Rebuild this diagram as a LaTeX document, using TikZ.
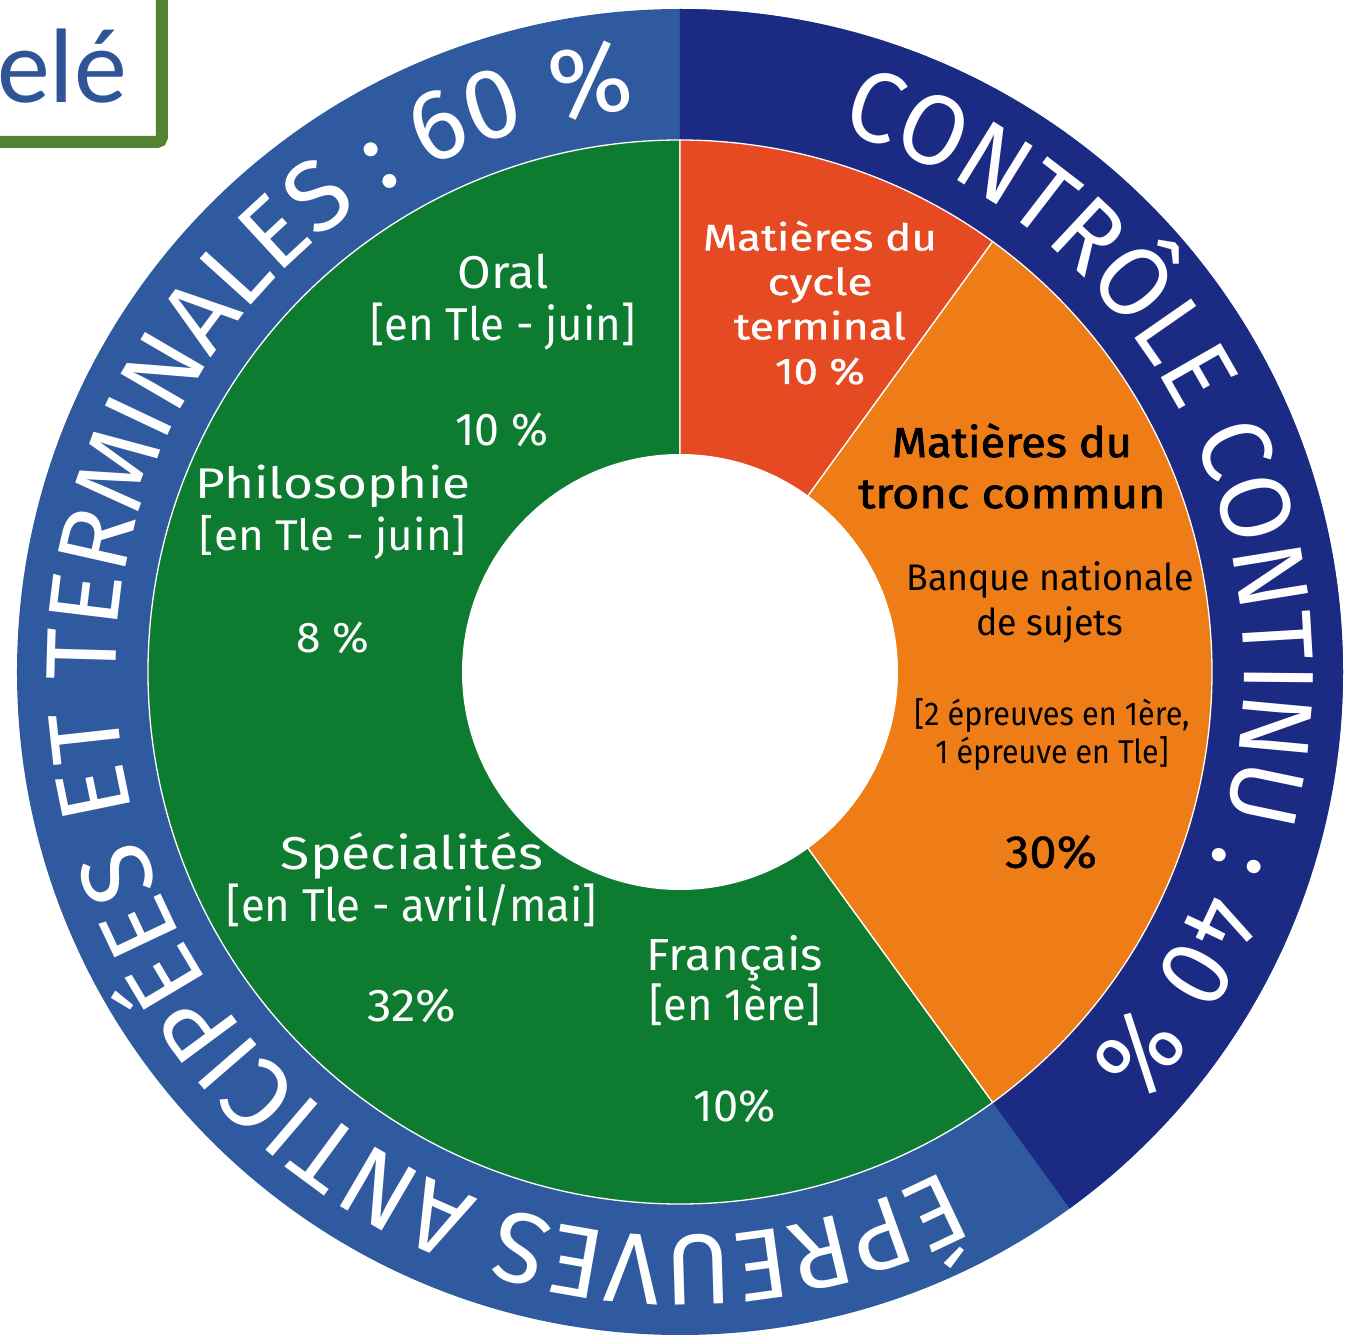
\documentclass[tikz,border=0pt]{standalone}
\usepackage{fontspec}
\usepackage{graphicx}
\setmainfont{Fira Sans}
\newfontfamily\ringfont{Fira Sans}
\newfontfamily\ringfontc{Fira Sans}[FakeStretch=0.955]
\newfontfamily\medfont{Fira Sans}[FakeBold=0.8]
\newfontfamily\semifont{Fira Sans}[FakeBold=1.8]
\newfontfamily\calfont{Carlito}
\usetikzlibrary{decorations.text}
\definecolor{ringlight}{HTML}{2F5AA0}
\definecolor{ringdark}{HTML}{1B2A82}
\definecolor{piegreen}{HTML}{0E7C30}
\definecolor{piered}{HTML}{E64A22}
\definecolor{pieorange}{HTML}{EE7D17}
\definecolor{boxgreen}{HTML}{548235}
\definecolor{boxblue}{HTML}{2F5597}
\newcommand\fw[2]{\resizebox{#1pt}{\height}{#2}}
\begin{document}
\begin{tikzpicture}[x=1pt,y=1pt,
  sector/.style={draw=white, line width=1.3pt},
  lbl/.style={align=center, inner sep=0pt},
  wlbl/.style={lbl, text=white},
  klbl/.style={lbl, text=black},
  ringtext/.style={decorate, decoration={text along path, text align=center, text color=white, text={#1}}}
]
\useasboundingbox (-680,-662) rectangle (680,672);
\clip (-680,-662) rectangle (680,672);

% outer ring
\fill[ringlight] (0,0) circle[radius=663pt];
\fill[ringdark] (0,0) -- (90:663pt) arc[start angle=90, end angle=-54, radius=663pt] -- cycle;

% pie
\path[sector, fill=piegreen] (0,0) -- (90:532pt) arc[start angle=90, end angle=306, radius=532pt] -- cycle;
\path[sector, fill=piered] (0,0) -- (90:532pt) arc[start angle=90, end angle=54, radius=532pt] -- cycle;
\path[sector, fill=pieorange] (0,0) -- (54:532pt) arc[start angle=54, end angle=-54, radius=532pt] -- cycle;
\fill[white] (0,0) circle[radius=218pt];

% ring texts (centred on their arcs)
\path[ringtext={|\ringfont\fontsize{100}{100}\selectfont|ÉPREUVES ANTICIPÉES ET TERMINALES : 60 {\%}}]
  (-43.75:564pt) arc[start angle=-43.75, end angle=-283.75, radius=564pt];
\path[ringtext={|\ringfontc\fontsize{100}{100}\selectfont|CONTRÔLE CONTINU : 40 {\%}}]
  (110:564pt) arc[start angle=110, end angle=-80, radius=564pt];

% red sector
\node[wlbl, font=\medfont\fontsize{37}{44.5}\selectfont] (cycle) at (140,369)
  {\fw{234}{Matières du}\\ \fw{105}{cycle}\\ \fw{172}{terminal}\\ \fw{90}{10 \%}};

% orange sector
\node[klbl, font=\semifont\fontsize{42}{51}\selectfont] (tronc) at (332,206)
  {\fw{240}{Matières du}\\ \fw{307}{tronc commun}};
\node[klbl, font=\fontsize{37}{45}\selectfont] (banque) at (370,70)
  {\fw{287}{Banque nationale}\\ \fw{147}{de sujets}};
\node[klbl, font=\fontsize{33}{38}\selectfont] (epr) at (372,-63)
  {\fw{275}{[2 épreuves en 1ère,}\\ \fw{233}{1 épreuve en Tle]}};
\node[klbl, font=\medfont\fontsize{46}{46}\selectfont] (trente) at (371,-180)
  {\fw{92}{30\%}};

% green sector
\node[wlbl, font=\fontsize{46}{52}\selectfont] (oral) at (-177,370)
  {\fw{91}{Oral}\\ \fw{265}{[en Tle - juin]}};
\node[wlbl, font=\fontsize{46}{52}\selectfont] (oralp) at (-178,242)
  {\fw{93}{10 \%}};
\node[wlbl, font=\fontsize{43}{52}\selectfont] (philo) at (-347,160)
  {\fw{275}{Philosophie}\\ \fw{266}{[en Tle - juin]}};
\node[wlbl, font=\fontsize{43}{52}\selectfont] (philop) at (-347,34)
  {\fw{73}{8 \%}};
\node[wlbl, font=\fontsize{46}{52}\selectfont] (spe) at (-268,-208)
  {\fw{262}{Spécialités}\\ \fw{370}{[en Tle - avril/mai]}};
\node[wlbl, font=\fontsize{46}{52}\selectfont] (spep) at (-268,-334)
  {\fw{89}{32\%}};
\node[wlbl, font=\fontsize{45}{50}\selectfont] (fr) at (55,-309)
  {\fw{176}{Français}\\ \fw{170}{[en 1ère]}};
\node[wlbl, font=\fontsize{45}{50}\selectfont] (frp) at (55,-434)
  {\fw{82}{10\%}};

% partial title box
\draw[boxgreen, line width=12pt, rounded corners=5pt, fill=white] (-720,720) rectangle (-518,530);
\node[anchor=base west, inner sep=0pt, text=boxblue, font=\calfont\fontsize{106}{106}\selectfont] (ele) at (-683,569) {elé};
\end{tikzpicture}
\end{document}
